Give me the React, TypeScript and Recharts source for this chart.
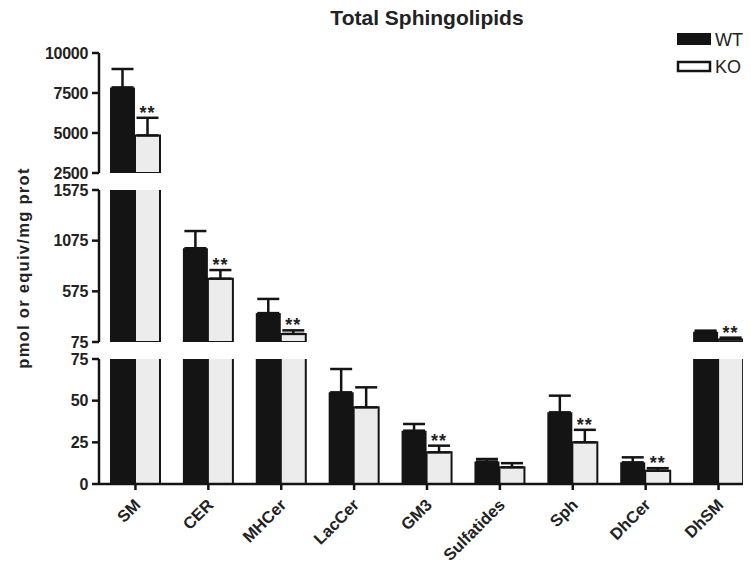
import React from "react";
import { Bar, BarChart, ErrorBar, XAxis, YAxis } from "recharts";

const categories = ["SM", "CER", "MHCer", "LacCer", "GM3", "Sulfatides", "Sph", "DhCer", "DhSM"];
const wtMean = [7850, 1000, 360, 55, 32, 13.5, 43, 13, 175];
const wtErr = [1150, 170, 140, 14, 4, 1.5, 10, 3, 12];
const koMean = [4850, 700, 155, 46, 19, 10, 25, 8, 100];
const koErr = [1100, 85, 35, 12, 4, 2.5, 7.5, 1.5, 18];
const koSig = [true, true, true, false, true, false, true, true, true];

const topTicks = [2500, 5000, 7500, 10000];
const midTicks = [75, 575, 1075, 1575];
const lowTicks = [0, 25, 50, 75];

const FONT = "'Liberation Sans', Arial, Helvetica, sans-serif";
const INK = "#141414";
const W = 760;

type Panel = {
  lo: number;
  hi: number;
  ticks: number[];
  top: number;
  plotH: number;
  mt: number;
  mb: number;
  xH: number;
};

// three stacked panels make the broken y axis
const panels: Panel[] = [
  { lo: 2500, hi: 10000, ticks: topTicks, top: 43, plotH: 120, mt: 10, mb: 10, xH: 0 },
  { lo: 75, hi: 1575, ticks: midTicks, top: 180, plotH: 152, mt: 10, mb: 8, xH: 0 },
  { lo: 0, hi: 75, ticks: lowTicks, top: 349, plotH: 125, mt: 10, mb: 0, xH: 85 },
];

const inPanel = (v: number, p: Panel) => v > p.lo && v <= p.hi;

const buildRows = (p: Panel) =>
  categories.map((name, i) => ({
    name,
    wt: wtMean[i] > p.lo ? wtMean[i] : null,
    ko: koMean[i] > p.lo ? koMean[i] : null,
    wtE: inPanel(wtMean[i], p) ? [0, wtErr[i]] : null,
    koE: inPanel(koMean[i], p) ? [0, koErr[i]] : null,
  }));

const XTick = (props: any) => {
  const { x, y, payload } = props;
  return (
    <g transform={`translate(${x + 6},${y + 14}) rotate(-45)`}>
      <text
        x={0}
        y={0}
        textAnchor="end"
        fontSize={16.5}
        fontWeight="bold"
        fill="#222"
        fontFamily={FONT}
      >
        {payload.value}
      </text>
    </g>
  );
};

const starLabel = (p: Panel) => (props: any) => {
  const { x, y, width, value } = props;
  const v = Array.isArray(value) ? value[1] : value;
  const i = koMean.indexOf(Number(v));
  if (i < 0 || !koSig[i] || !inPanel(koMean[i], p)) return null;
  const ppu = p.plotH / (p.hi - p.lo);
  const top = Number(y) - koErr[i] * ppu;
  return (
    <text
      key={`s-${i}`}
      x={Number(x) + Number(width) / 2}
      y={top + 1}
      textAnchor="middle"
      fontSize={18}
      fontWeight="bold"
      letterSpacing={1}
      fill="#222"
      fontFamily={FONT}
    >
      **
    </text>
  );
};

const PanelChart = ({ p }: { p: Panel }) => {
  const h = p.mt + p.plotH + p.mb + p.xH;
  return (
    <div style={{ position: "absolute", left: 0, top: p.top }}>
      <BarChart
        width={W}
        height={h}
        data={buildRows(p)}
        margin={{ top: p.mt, right: 5, bottom: p.mb, left: 0 }}
        barSize={25}
        barGap={0}
      >
        <XAxis
          dataKey="name"
          hide={p.xH === 0}
          height={p.xH || 1}
          interval={0}
          tick={<XTick />}
          tickSize={6}
          tickMargin={2}
          axisLine={{ stroke: INK, strokeWidth: 2.5 }}
          tickLine={{ stroke: INK, strokeWidth: 2.5 }}
        />
        <YAxis
          type="number"
          domain={[p.lo, p.hi]}
          ticks={p.ticks}
          interval={0}
          allowDataOverflow
          width={99}
          tickSize={7}
          tickMargin={4}
          axisLine={{ stroke: INK, strokeWidth: 2.5 }}
          tickLine={{ stroke: INK, strokeWidth: 2.5 }}
          tick={{ fontSize: 16, fontWeight: "bold", fill: "#222", fontFamily: FONT, letterSpacing: -0.3 }}
        />
        <Bar dataKey="wt" fill={INK} isAnimationActive={false}>
          <ErrorBar dataKey="wtE" direction="y" width={11} stroke={INK} strokeWidth={2.5} />
        </Bar>
        <Bar
          dataKey="ko"
          fill="#ececec"
          stroke={INK}
          strokeWidth={2}
          isAnimationActive={false}
          label={starLabel(p)}
        >
          <ErrorBar dataKey="koE" direction="y" width={11} stroke={INK} strokeWidth={2.5} />
        </Bar>
      </BarChart>
    </div>
  );
};

export default function App() {
  return (
    <div
      style={{
        position: "relative",
        width: 751,
        height: 569,
        marginLeft: -8,
        marginTop: -8,
        overflow: "hidden",
        background: "#fff",
        fontFamily: FONT,
      }}
    >
      {panels.map((p, i) => (
        <PanelChart key={i} p={p} />
      ))}
      <svg
        width={751}
        height={569}
        style={{ position: "absolute", left: 0, top: 0, pointerEvents: "none" }}
      >
        <text x={427} y={25} textAnchor="middle" fontSize={21} fontWeight="bold" fill="#222" fontFamily={FONT}>
          Total Sphingolipids
        </text>
        <rect x={677} y={33} width={34} height={12} fill={INK} />
        <text x={715} y={46} fontSize={18} fill="#222" fontFamily={FONT}>
          WT
        </text>
        <rect x={678} y={62} width={32} height={9} fill="#fff" stroke={INK} strokeWidth={2.5} />
        <text x={715} y={73} fontSize={18} fill="#222" fontFamily={FONT}>
          KO
        </text>
        <text
          transform="translate(29,268) rotate(-90)"
          textAnchor="middle"
          fontSize={16.5}
          fontWeight="bold"
          letterSpacing={1.3}
          fill="#222"
          fontFamily={FONT}
        >
          pmol or equiv/mg prot
        </text>
      </svg>
    </div>
  );
}
